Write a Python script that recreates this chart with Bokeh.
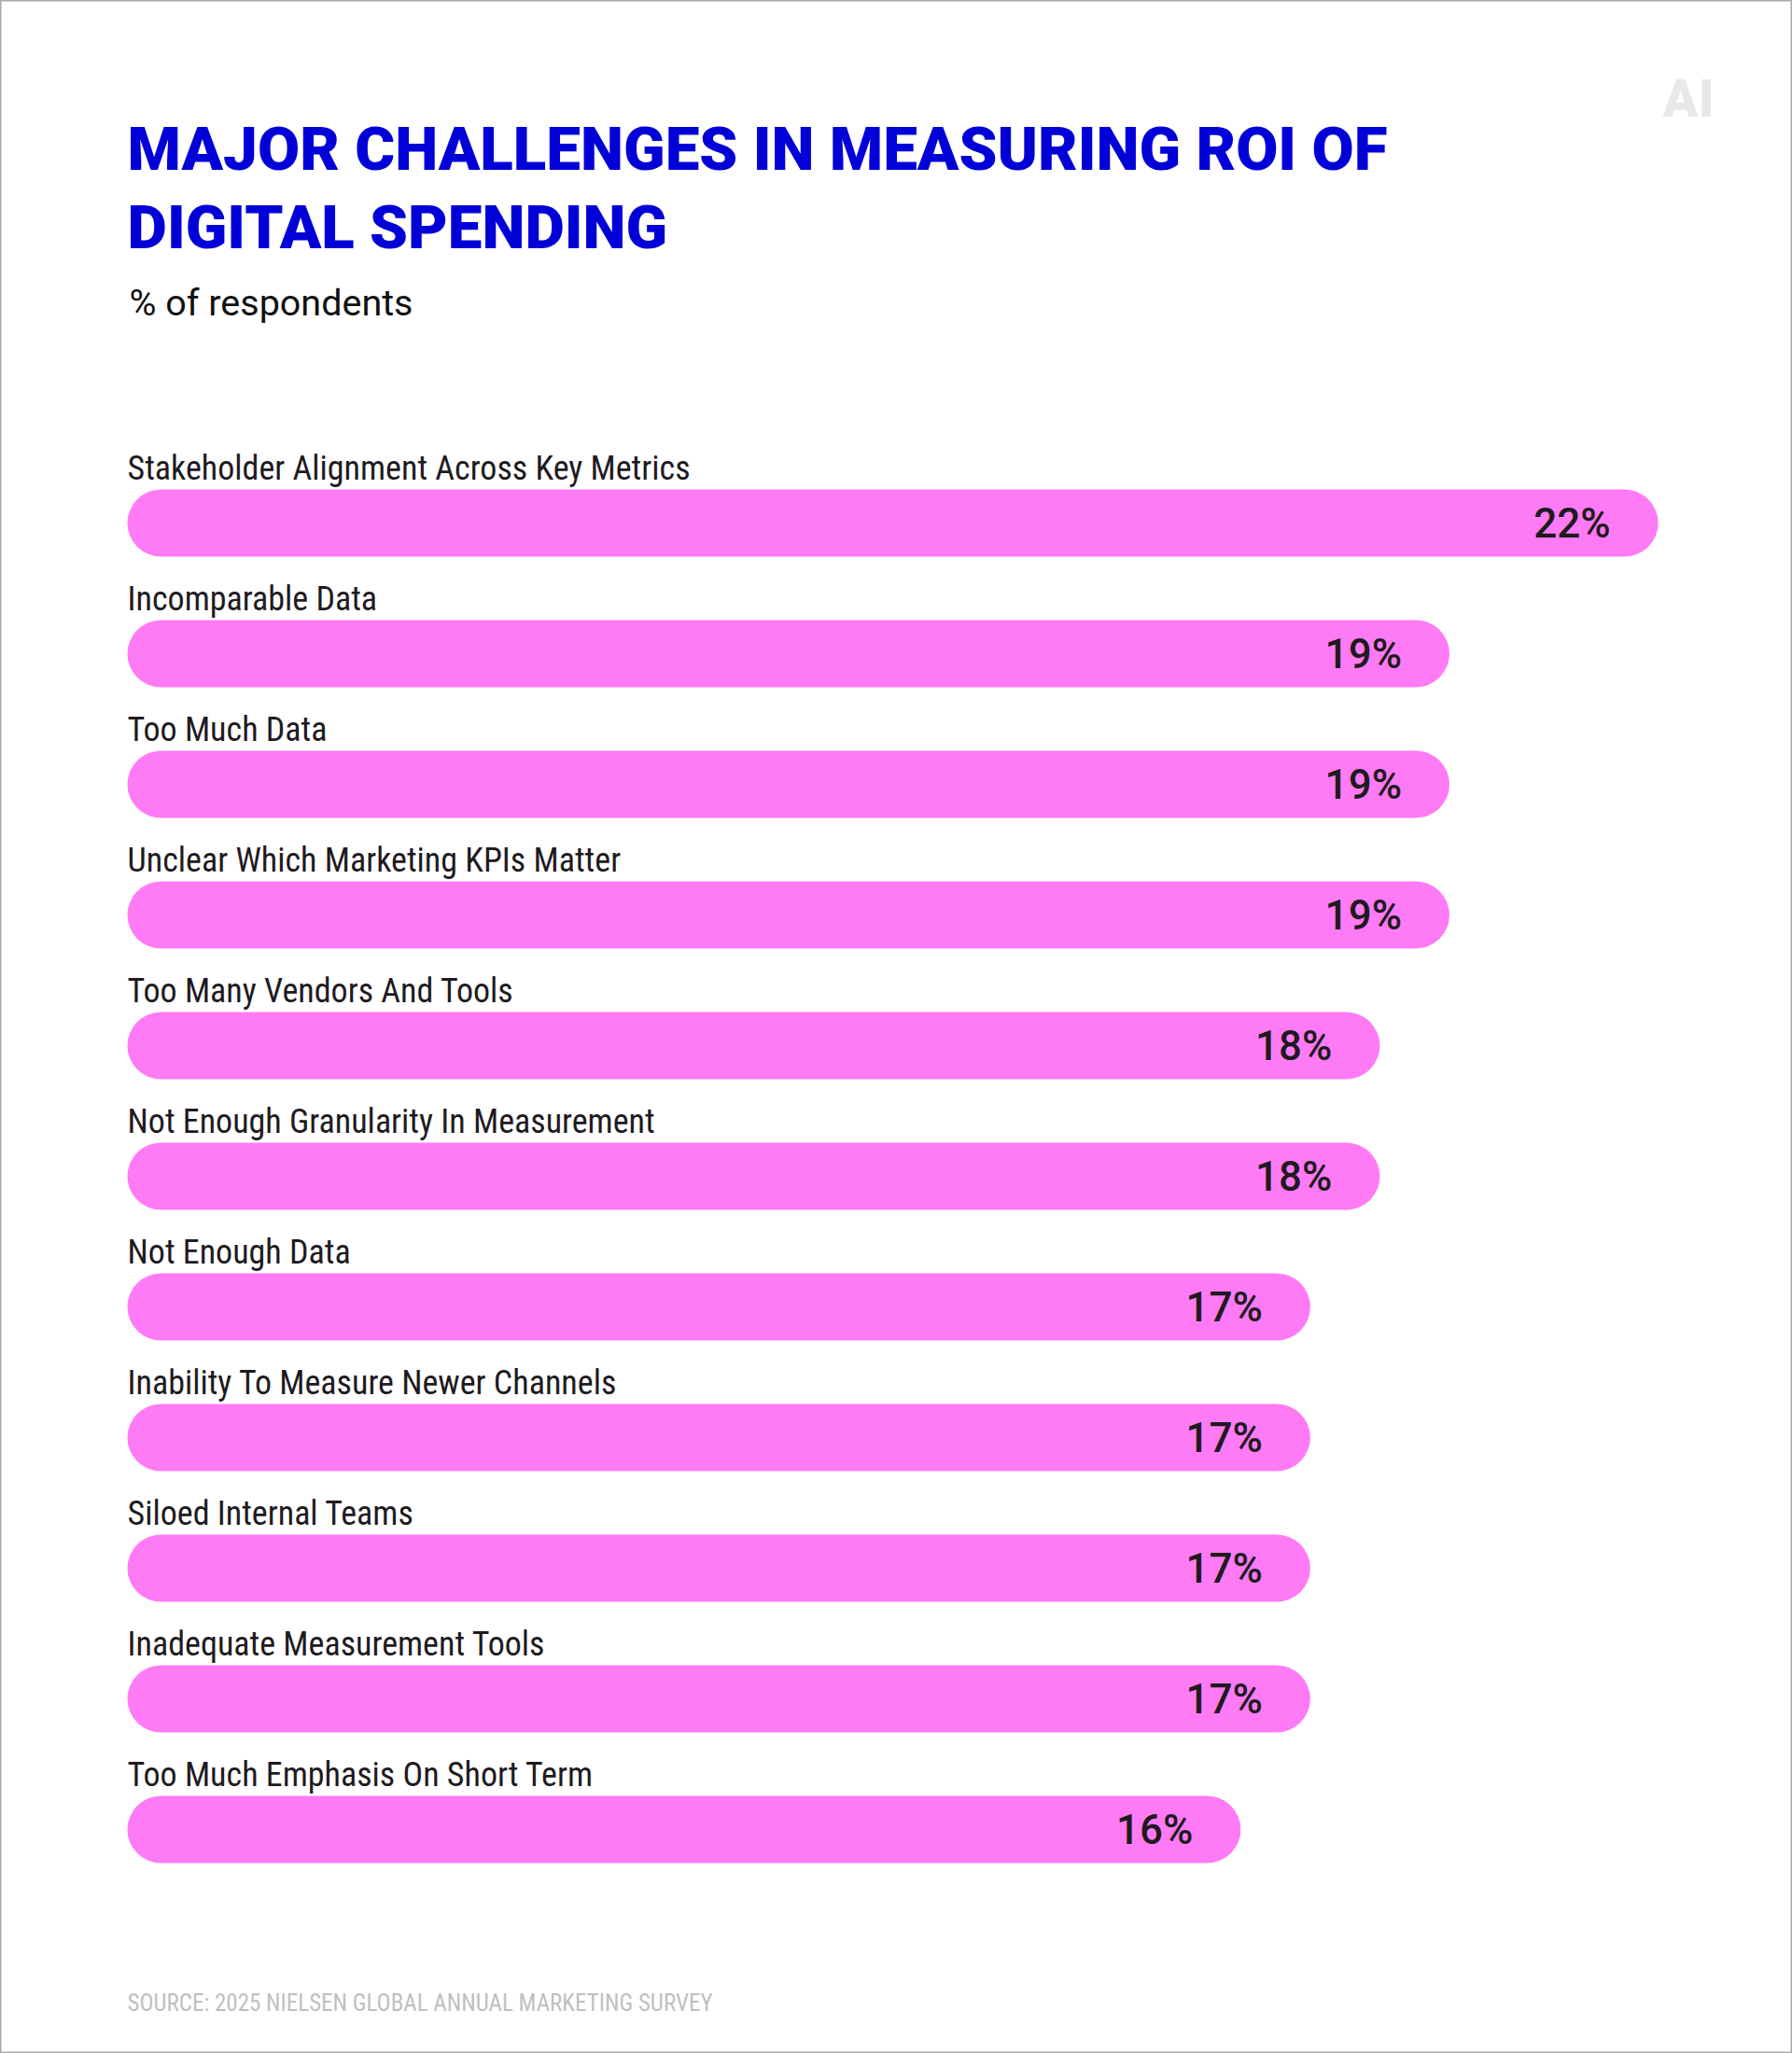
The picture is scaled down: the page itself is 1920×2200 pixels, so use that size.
from bokeh.plotting import figure
from bokeh.core.properties import value
from bokeh.models import ColumnDataSource, Range1d, Label
from bokeh.embed import file_html
from bokeh.resources import INLINE

title_lines = ["MAJOR CHALLENGES IN MEASURING ROI OF", "DIGITAL SPENDING"]
subtitle = "% of respondents"
source_note = "SOURCE: 2025 NIELSEN GLOBAL ANNUAL MARKETING SURVEY"
logo = "AI"
categories = [
    "Stakeholder Alignment Across Key Metrics",
    "Incomparable Data",
    "Too Much Data",
    "Unclear Which Marketing KPIs Matter",
    "Too Many Vendors And Tools",
    "Not Enough Granularity In Measurement",
    "Not Enough Data",
    "Inability To Measure Newer Channels",
    "Siloed Internal Teams",
    "Inadequate Measurement Tools",
    "Too Much Emphasis On Short Term",
]
values = [22, 19, 19, 19, 18, 18, 17, 17, 17, 17, 16]

W, H = 1920, 2200
OFF = 0
PX_PER_UNIT = 74.55
ROW = 140.0
X0_SCREEN = 136
Y0_SCREEN = 560
BASE_FIX = 0.35

def xd(sx):
    return (sx - X0_SCREEN) / PX_PER_UNIT

def yd(sy):
    return (sy - Y0_SCREEN) / ROW

p = figure(
    width=W, height=H, output_backend="svg", toolbar_location=None,
    x_range=Range1d(xd(OFF), xd(OFF + W)),
    y_range=Range1d(yd(OFF + H), yd(OFF)),
    min_border=0, background_fill_color="white",
    outline_line_color="#aaaaaa", outline_line_width=2,
)
p.axis.visible = False
p.grid.visible = False

idx = list(range(len(categories)))
src = ColumnDataSource(dict(
    y=idx,
    left=[0] * len(values),
    value=values,
    cat=categories,
    lab=[f"{v}%" for v in values],
    cat_y=[i - (46 + BASE_FIX * 36) / ROW for i in idx],
    val_y=[i + (16 - BASE_FIX * 44) / ROW for i in idx],
    val_x=[v - 51 / PX_PER_UNIT for v in values],
))

p.hbar(y="y", left="left", right="value", height=72 / ROW, source=src,
       fill_color="#ff7bf5", line_color=None, border_radius=36)

p.text(x="left", y="cat_y", text="cat", source=src, text_font=value("Roboto Condensed"),
       text_font_size="36px", text_color="#1f1a1f", text_baseline="alphabetic", text_align="left")
p.text(x="val_x", y="val_y", text="lab", source=src, text_font=value("Roboto Medium"),
       text_font_size="44px", text_color="#1f1a1f", text_baseline="alphabetic", text_align="right")

def add(text, sx, sy, font, size, color, style="normal"):
    p.add_layout(Label(x=xd(sx), y=yd(sy - BASE_FIX * size), text=text, text_font=font, text_font_size=f"{size}px",
                       text_color=color, text_font_style=style, text_baseline="alphabetic",
                       text_align="left"))

add(title_lines[0], 136, 182, "Roboto Black", 65.5, "#0000d7", "normal")
add(title_lines[1], 136, 266, "Roboto Black", 65.5, "#0000d7", "normal")
add(subtitle, 138, 338, "Roboto", 39.5, "#111111")
add(source_note, 136, 2155, "Roboto Condensed", 25, "#bfbfbf")
add(logo, 1781, 125, "Roboto Black", 56, "#e8e8e8")

open("out.html", "w").write(file_html(p, INLINE))
